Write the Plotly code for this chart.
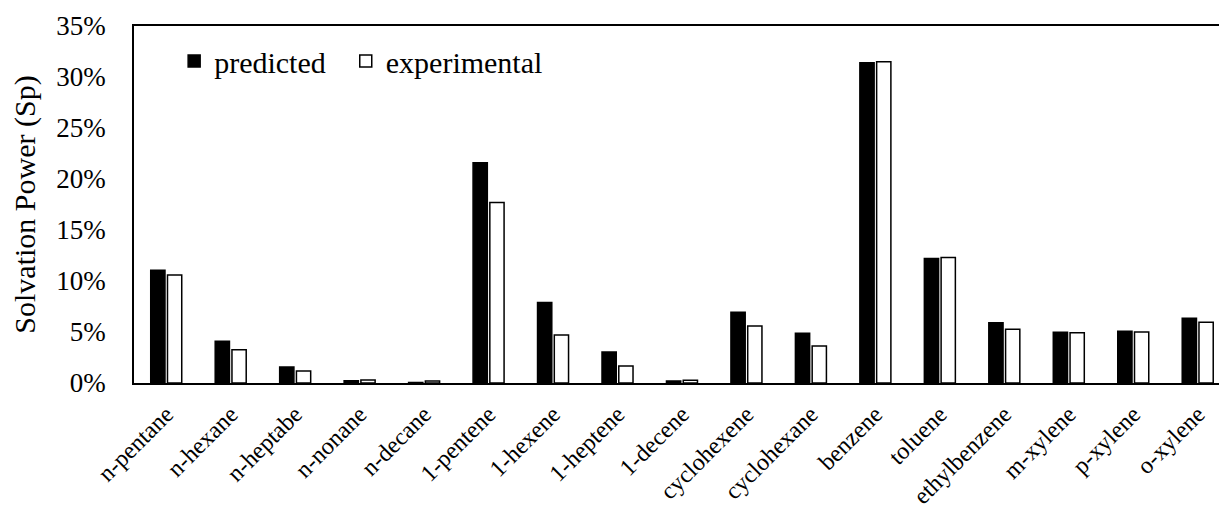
import plotly.graph_objects as go

# --- dados ---
solvents = ['n-pentane', 'n-hexane', 'n-heptabe', 'n-nonane', 'n-decane',
            '1-pentene', '1-hexene', '1-heptene', '1-decene', 'cyclohexene',
            'cyclohexane', 'benzene', 'toluene', 'ethylbenzene', 'm-xylene',
            'p-xylene', 'o-xylene']
predicted = [0.1105, 0.041, 0.0157, 0.0023, 0.0005,
             0.216, 0.079, 0.0304, 0.002, 0.0693,
             0.0487, 0.314, 0.122, 0.059, 0.0497,
             0.0507, 0.0634]
experimental = [0.106, 0.0327, 0.0118, 0.003, 0.002,
                0.177, 0.047, 0.0167, 0.0026, 0.056,
                0.0363, 0.315, 0.123, 0.0526, 0.0493,
                0.050, 0.0595]
y_ticks = [0, 0.05, 0.10, 0.15, 0.20, 0.25, 0.30, 0.35]

FONT = 'Liberation Serif'
NBSP = '\u00a0'

fig = go.Figure()
fig.add_trace(go.Bar(
    x=solvents, y=predicted, name='predicted' + NBSP * 2,
    marker=dict(color='black', line=dict(color='black', width=1.5))
))
fig.add_trace(go.Bar(
    x=solvents, y=experimental, name='experimental',
    marker=dict(color='white', line=dict(color='black', width=1.5))
))

fig.update_layout(
    width=1219, height=506,
    barmode='group', bargap=0.48, bargroupgap=0.15,
    font=dict(family=FONT, size=22, color='black'),
    margin=dict(l=134, r=0, t=26, b=123),
    plot_bgcolor='white', paper_bgcolor='white',
    showlegend=True,
    legend=dict(orientation='h', x=0.037, y=0.975, xanchor='left', yanchor='top',
                font=dict(family=FONT, size=30), bgcolor='rgba(0,0,0,0)',
                itemwidth=30, tracegroupgap=0),
)

fig.update_xaxes(
    range=[-0.5, 16.33], automargin=False,
    showline=True, linecolor='black', linewidth=1.5, mirror=True,
    showgrid=False, ticks='', tickangle=-45,
    ticklabelstandoff=6,
    tickfont=dict(family=FONT, size=24)
)
fig.update_yaxes(
    range=[0, 0.35], tickvals=y_ticks, tickformat='.0%', automargin=False,
    showline=True, linecolor='black', linewidth=1.5, mirror=False,
    showgrid=False, ticks='', zeroline=False,
    ticklabelstandoff=21,
    tickfont=dict(family=FONT, size=27),
    title=dict(text='Solvation Power (Sp)', font=dict(family=FONT, size=30), standoff=12)
)

# remove a margem padrão do <body> para o gráfico ocupar a janela inteira
fig.write_html("out.html", config={'displayModeBar': False},
               post_script="document.body.style.margin='0px';document.body.style.overflow='hidden';")
